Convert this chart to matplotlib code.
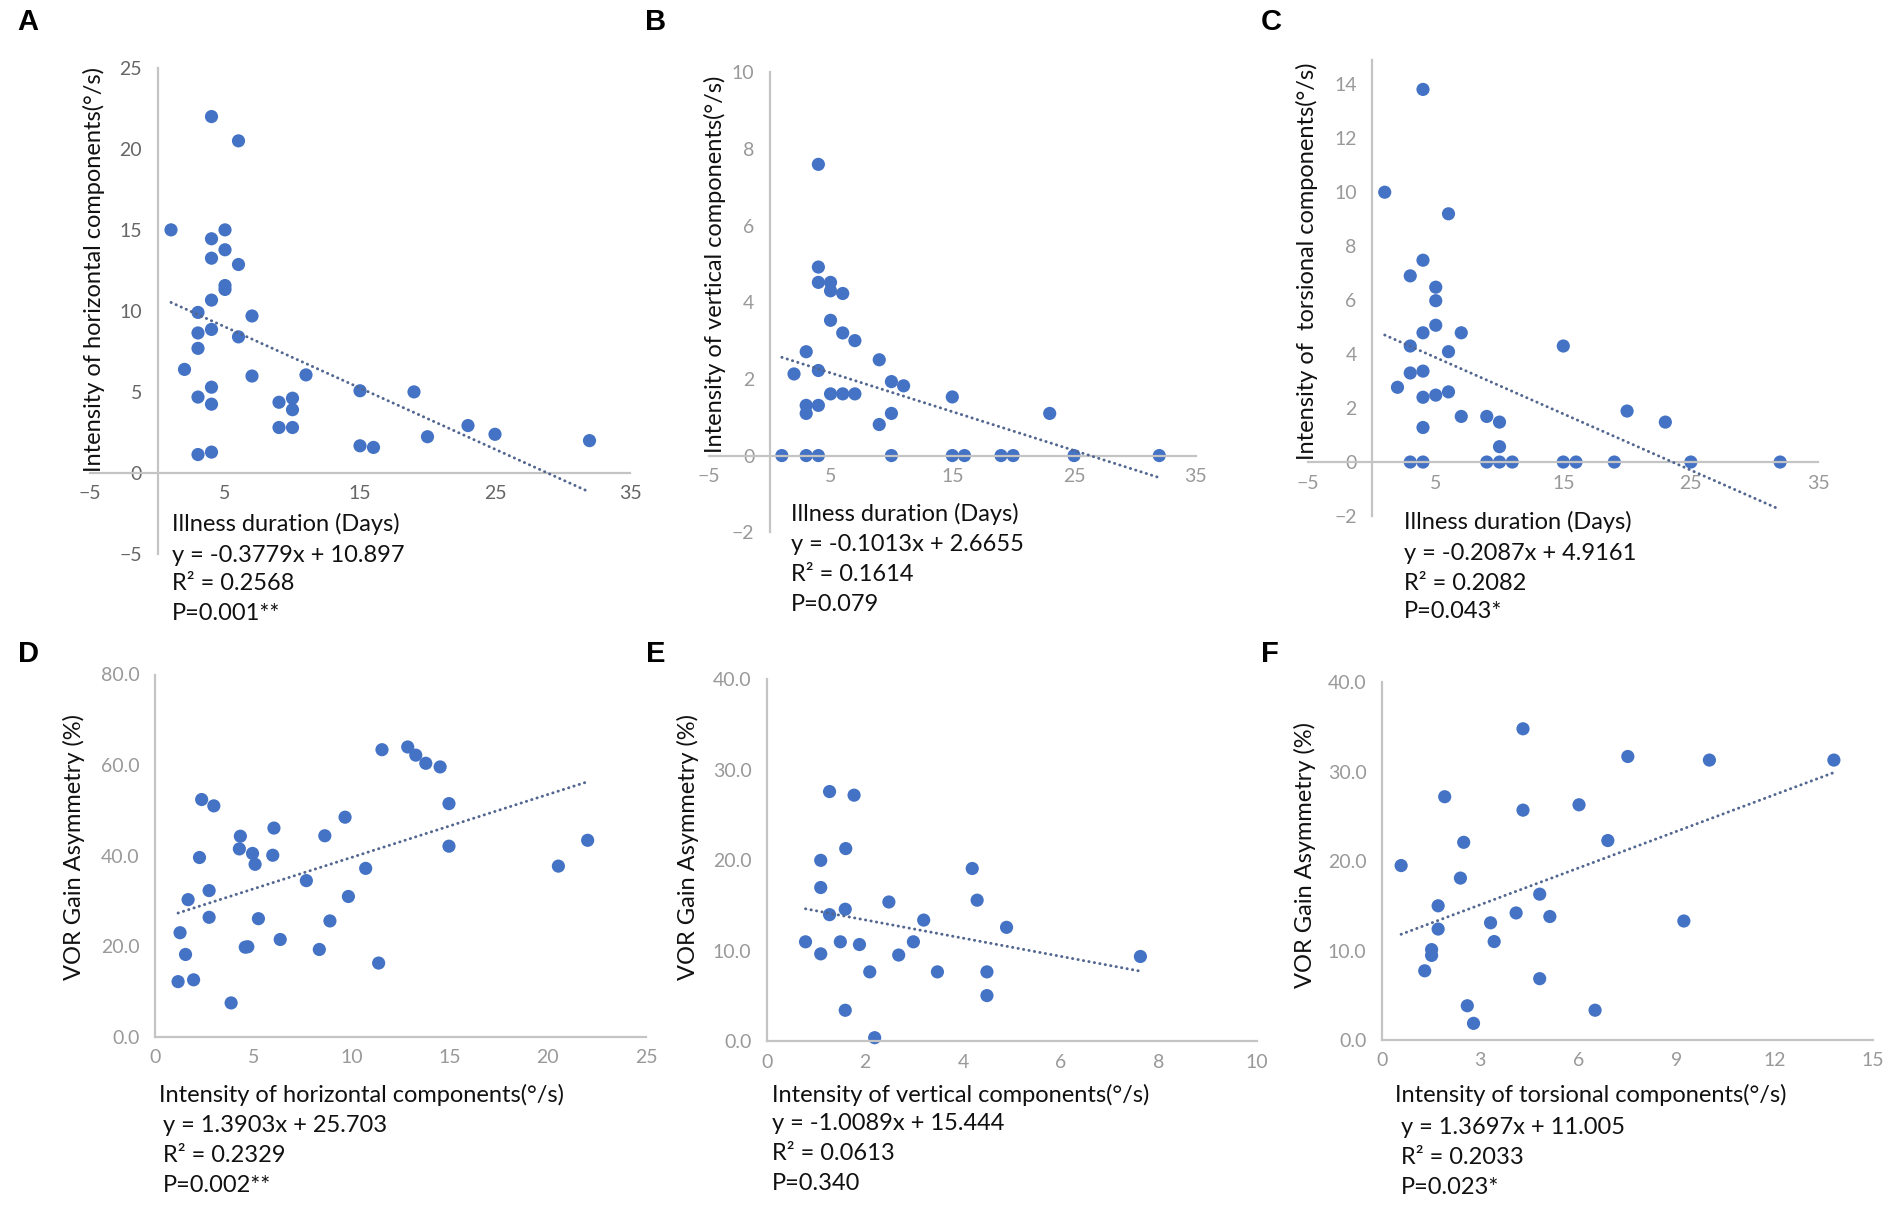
import numpy as np
import matplotlib
matplotlib.use("Agg")
import matplotlib.pyplot as plt
from matplotlib.ticker import FormatStrFormatter

# ---- data ----
# A: illness duration (days) vs horizontal component intensity
a_x = [1, 4, 6, 5, 4, 5, 4, 6, 5, 5, 4, 3, 7, 3, 4, 6, 3, 2, 7, 11, 4, 3, 4, 9, 10,
       10, 9, 10, 15, 19, 15, 16, 20, 23, 25, 32, 3, 4]
a_y = [15.0, 22.0, 20.5, 15.0, 14.45, 13.77, 13.25, 12.86, 11.56, 11.32, 10.66, 9.9,
       9.68, 8.63, 8.85, 8.39, 7.68, 6.38, 5.97, 6.04, 5.28, 4.67, 4.23, 4.35, 4.6,
       3.89, 2.79, 2.79, 5.06, 4.99, 1.66, 1.56, 2.22, 2.91, 2.37, 1.98, 1.12, 1.27]

# B: illness duration vs vertical component intensity
b_x = [1, 3, 4, 10, 15, 16, 19, 20, 25, 32, 4, 4, 4, 5, 5, 6, 5, 6, 7, 3, 9, 2, 4,
       10, 11, 5, 6, 7, 15, 3, 4, 3, 10, 23, 9]
b_y = [0, 0, 0, 0, 0, 0, 0, 0, 0, 0, 7.6, 4.92, 4.52, 4.52, 4.3, 4.23, 3.53, 3.2,
       3.0, 2.71, 2.5, 2.13, 2.22, 1.93, 1.82, 1.61, 1.61, 1.61, 1.53, 1.31, 1.31,
       1.1, 1.1, 1.1, 0.81]

# C: illness duration vs torsional component intensity
c_x = [1, 4, 6, 4, 3, 5, 5, 5, 4, 7, 3, 6, 15, 3, 4, 2, 4, 5, 6, 7, 9, 10, 20, 23,
       4, 10, 3, 4, 9, 10, 11, 15, 16, 19, 25, 32]
c_y = [10.0, 13.81, 9.2, 7.48, 6.9, 6.48, 5.98, 5.07, 4.79, 4.79, 4.3, 4.09, 4.3,
       3.3, 3.37, 2.77, 2.4, 2.48, 2.6, 1.69, 1.69, 1.48, 1.89, 1.48, 1.28, 0.57,
       0, 0, 0, 0, 0, 0, 0, 0, 0, 0]

# D: horizontal intensity vs VOR gain asymmetry
d_x = [11.56, 12.87, 13.28, 13.79, 14.52, 14.97, 14.97, 22.03, 20.54, 2.38, 3.0,
       9.68, 6.06, 4.35, 8.65, 4.3, 4.97, 2.27, 6.0, 5.1, 10.73, 7.71, 2.76, 1.69,
       9.85, 2.76, 5.27, 8.91, 1.28, 6.38, 4.6, 4.73, 8.37, 1.56, 11.39, 1.18, 1.97,
       3.88]
d_y = [63.4, 64.0, 62.2, 60.4, 59.6, 51.5, 42.1, 43.4, 37.7, 52.4, 51.0, 48.5, 46.1,
       44.3, 44.4, 41.5, 40.5, 39.6, 40.1, 38.1, 37.2, 34.5, 32.3, 30.3, 31.0, 26.4,
       26.1, 25.6, 23.0, 21.5, 19.8, 19.9, 19.3, 18.2, 16.3, 12.2, 12.6, 7.5]

# E: vertical intensity vs VOR gain asymmetry
e_x = [1.28, 1.78, 1.61, 1.1, 4.19, 1.1, 4.29, 2.49, 1.6, 1.28, 3.2, 4.89, 0.79,
       1.5, 1.89, 2.99, 1.1, 2.69, 7.62, 2.1, 3.48, 4.49, 4.49, 1.6, 2.2]
e_y = [27.6, 27.2, 21.3, 20.0, 19.1, 17.0, 15.6, 15.4, 14.6, 14.0, 13.4, 12.6, 11.0,
       11.0, 10.7, 11.0, 9.67, 9.54, 9.38, 7.68, 7.68, 7.68, 5.06, 3.44, 0.41]

# F: torsional intensity vs VOR gain asymmetry
f_x = [4.31, 7.51, 10.0, 13.8, 1.92, 6.02, 4.31, 2.5, 6.9, 0.59, 2.4, 4.82, 1.72,
       4.1, 5.13, 3.32, 9.22, 1.72, 3.43, 1.52, 1.52, 1.31, 4.82, 2.61, 6.51, 2.8]
f_y = [34.8, 31.7, 31.3, 31.3, 27.2, 26.3, 25.7, 22.1, 22.3, 19.5, 18.1, 16.3, 15.0,
       14.2, 13.8, 13.1, 13.3, 12.4, 11.0, 10.1, 9.45, 7.73, 6.85, 3.82, 3.32, 1.85]

# trendline coefficients as printed on the chart
slopes = [-0.3779, -0.1013, -0.2087, 1.3903, -1.0089, 1.3697]
intercepts = [10.897, 2.6655, 4.9161, 25.703, 15.444, 11.005]

letters = ["A", "B", "C", "D", "E", "F"]
y_titles = ["Intensity of horizontal components(°/s)",
            "Intensity of vertical components(°/s)",
            "Intensity of  torsional components(°/s)",
            "VOR Gain Asymmetry (%)",
            "VOR Gain Asymmetry (%)",
            "VOR Gain Asymmetry (%)"]
x_titles = ["Illness duration (Days)", "Illness duration (Days)", "Illness duration (Days)",
            "Intensity of horizontal components(°/s)",
            "Intensity of vertical components(°/s)",
            "Intensity of torsional components(°/s)"]
equations = ["y = -0.3779x + 10.897", "y = -0.1013x + 2.6655", "y = -0.2087x + 4.9161",
             "y = 1.3903x + 25.703", "y = -1.0089x + 15.444", "y = 1.3697x + 11.005"]
r2_texts = ["R² = 0.2568", "R² = 0.1614", "R² = 0.2082",
            "R² = 0.2329", "R² = 0.0613", "R² = 0.2033"]
p_texts = ["P=0.001**", "P=0.079", "P=0.043*", "P=0.002**", "P=0.340", "P=0.023*"]

x_ticks = [[-5, 5, 15, 25, 35], [-5, 5, 15, 25, 35], [-5, 5, 15, 25, 35],
           [0, 5, 10, 15, 20, 25], [0, 2, 4, 6, 8, 10], [0, 3, 6, 9, 12, 15]]
y_ticks = [[-5, 0, 5, 10, 15, 20, 25], [-2, 0, 2, 4, 6, 8, 10],
           [-2, 0, 2, 4, 6, 8, 10, 12, 14], [0, 20, 40, 60, 80],
           [0, 10, 20, 30, 40], [0, 10, 20, 30, 40]]

xs = [a_x, b_x, c_x, d_x, e_x, f_x]
ys = [a_y, b_y, c_y, d_y, e_y, f_y]

# ---- layout (pixels in a 1901x1209 canvas) ----
W, H = 1901, 1209
# (xmin, xmax, px_left, px_right, ymin, ymax, px_bottom, px_top)
frames = [(-5, 35, 90, 630, -5, 25, 553.6, 68),
          (-5, 35, 708.8, 1195.8, -2, 10, 532.2, 72.4),
          (-5, 35, 1308.2, 1818.4, -2, 14.9, 516, 60),
          (0, 25, 154.9, 646, 0, 80, 1036.9, 674.5),
          (0, 10, 766.8, 1257.1, 0, 40, 1041.4, 679.3),
          (0, 15, 1381.8, 1873.2, 0, 40, 1039.9, 682.3)]
letter_pos = [(28, 22), (656, 22), (1271, 22), (28, 654), (656, 654), (1270, 654)]
ylab_pos = [(94, 270), (715, 264), (1307, 261), (74, 847), (688, 847), (1305, 855)]
# left x of first line, left x of other lines, y centres of the four lines
text_pos = [(172, 172, [524, 555, 584, 613]),
            (791, 791, [514, 545, 575, 605]),
            (1404, 1404, [522, 553, 583, 611]),
            (159, 163, [1095, 1125, 1155, 1185]),
            (772, 772, [1095, 1123, 1153, 1183]),
            (1395, 1401, [1095, 1127, 1158, 1187])]
tick_colors = ["#666666", "#999999", "#999999", "#999999", "#999999", "#999999"]

FONT = "Lato"
dot_color = "#4472C4"
trend_color = "#52668f"
axis_color = "#c4c4c4"

fig = plt.figure(figsize=(W / 100, H / 100), dpi=100)
fig.patch.set_facecolor("white")

for i in range(6):
    x0, x1, pl, pr, y0, y1, pb, pt = frames[i]
    ax = fig.add_axes([pl / W, 1 - pb / H, (pr - pl) / W, (pb - pt) / H])
    ax.set_xlim(x0, x1)
    ax.set_ylim(y0, y1)
    ax.patch.set_alpha(0)

    for s in ["top", "right"]:
        ax.spines[s].set_visible(False)
    for s in ["left", "bottom"]:
        ax.spines[s].set_color(axis_color)
        ax.spines[s].set_linewidth(1.6)
    if i < 3:
        # Excel style: axes cross at zero
        ax.spines["left"].set_position(("data", 0))
        ax.spines["bottom"].set_position(("data", 0))

    ax.set_xticks(x_ticks[i])
    ax.set_yticks(y_ticks[i])
    if i >= 3:
        ax.yaxis.set_major_formatter(FormatStrFormatter("%.1f"))
    ax.tick_params(axis="both", length=0, labelsize=14, labelcolor=tick_colors[i])
    ax.tick_params(axis="x", pad=9)
    ax.tick_params(axis="y", pad=11)
    for lab in ax.get_xticklabels() + ax.get_yticklabels():
        lab.set_fontfamily(FONT)

    x = np.array(xs[i])
    y = np.array(ys[i])
    ax.scatter(x, y, s=90, color=dot_color, edgecolors="none", zorder=2, clip_on=False)

    tx = np.array([x.min(), x.max()])
    ax.plot(tx, slopes[i] * tx + intercepts[i], color=trend_color, lw=2.1,
            linestyle=(0, (0.1, 1.8)), dash_capstyle="round", zorder=3, clip_on=False)

    lx, ly = letter_pos[i]
    fig.text(lx / W, 1 - ly / H, letters[i], fontsize=21, fontweight="bold",
             family="Liberation Sans", ha="center", va="center")

    yx, yy = ylab_pos[i]
    fig.text(yx / W, 1 - yy / H, y_titles[i], rotation=90, fontsize=17, family=FONT,
             ha="center", va="center", color="#111111")

    first_x, rest_x, rows = text_pos[i]
    lines = [x_titles[i], equations[i], r2_texts[i], p_texts[i]]
    for k, line in enumerate(lines):
        px = first_x if k == 0 else rest_x
        fig.text(px / W, 1 - rows[k] / H, line, fontsize=17, family=FONT,
                 ha="left", va="center", color="#111111")

fig.savefig("out.png", dpi=100, facecolor="white")
